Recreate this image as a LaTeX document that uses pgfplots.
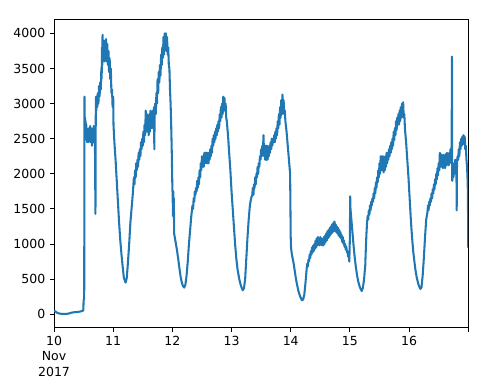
\documentclass[border=0pt]{standalone}
\usepackage{fontspec}
\setmainfont{DejaVu Sans}
\usepackage{pgfplots}
\pgfplotsset{compat=1.18}
\definecolor{mplblue}{RGB}{31,119,180}
\begin{document}
\begin{tikzpicture}
\begin{axis}[
  scale only axis,
  width=331.2pt, height=247pt,
  xmin=10, xmax=17.0, ymin=-195, ymax=4205,
  xtick={10,11,12,13,14,15,16,17},
  xticklabels={{10\\Nov\\2017},11,12,13,14,15,16,{}},
  xticklabel style={align=center, font=\fontsize{10}{12}\selectfont},
  ytick={0,500,1000,1500,2000,2500,3000,3500,4000},
  yticklabel style={font=\fontsize{10}{12}\selectfont},
  /pgf/number format/assume math mode=true,
  /pgf/number format/1000 sep={},
  xtick pos=bottom, ytick pos=left,
  tick align=outside,
  major tick length=3.5pt,
  every tick/.style={black, line width=0.8pt},
  axis line style={line width=0.8pt},
  tick label style={black},
]
\addplot[mplblue, line width=1.65pt, line join=round, mark=none] table {
x y
10.000 55
10.020 40
10.050 22
10.080 12
10.120 6
10.160 4
10.200 5
10.240 8
10.280 18
10.320 26
10.360 30
10.400 32
10.440 38
10.470 45
10.495 55
10.500 200
10.510 220
10.515 3100
10.520 2700
10.525 2800
10.530 2550
10.535 2750
10.540 2500
10.545 2700
10.550 2480
10.555 2650
10.560 2450
10.565 2620
10.570 2480
10.575 2600
10.580 2450
10.590 2650
10.600 2500
10.610 2680
10.620 2450
10.630 2650
10.640 2400
10.650 2600
10.660 2450
10.670 2680
10.680 2480
10.690 2650
10.700 1430
10.705 2800
10.710 3100
10.715 2900
10.720 3100
10.730 2950
10.740 3150
10.750 3000
10.760 3250
10.770 3100
10.780 3300
10.790 3200
10.800 3500
10.805 3350
10.810 3800
10.815 3550
10.820 3980
10.825 3600
10.830 3900
10.835 3650
10.840 3850
10.850 3600
10.860 3900
10.870 3650
10.880 3920
10.890 3600
10.900 3850
10.910 3550
10.920 3750
10.930 3450
10.940 3650
10.950 3350
10.960 3500
10.970 3150
10.980 3200
10.990 2950
11.000 3100
11.005 2700
11.020 2450
11.040 2200
11.060 1900
11.080 1600
11.100 1300
11.120 1050
11.140 850
11.160 680
11.180 520
11.210 450
11.230 520
11.250 750
11.270 1000
11.290 1300
11.310 1500
11.330 1700
11.350 1950
11.360 1850
11.370 2050
11.380 1950
11.390 2150
11.400 2050
11.410 2200
11.420 2100
11.430 2300
11.440 2200
11.450 2350
11.460 2250
11.470 2450
11.480 2350
11.490 2500
11.500 2400
11.510 2600
11.520 2450
11.530 2700
11.540 2550
11.550 2900
11.560 2600
11.570 2850
11.580 2600
11.590 2800
11.600 2550
11.610 2850
11.620 2600
11.630 2900
11.640 2650
11.650 2850
11.660 2650
11.670 2900
11.680 2700
11.690 2950
11.695 2350
11.700 2850
11.710 3000
11.720 2850
11.730 3150
11.740 3000
11.750 3350
11.760 3150
11.770 3450
11.780 3300
11.790 3550
11.800 3400
11.810 3700
11.820 3550
11.830 3800
11.840 3650
11.850 3950
11.860 3700
11.870 4000
11.880 3800
11.890 4000
11.900 3750
11.910 3950
11.920 3700
11.930 3800
11.940 3550
11.950 3500
11.960 3200
11.970 3000
11.980 2700
11.990 2300
12.000 1800
12.005 1700
12.010 1400
12.015 1750
12.020 1400
12.025 1650
12.030 1150
12.040 1100
12.060 1000
12.080 900
12.100 780
12.120 650
12.140 530
12.160 450
12.180 400
12.200 380
12.220 420
12.240 550
12.260 750
12.280 1000
12.300 1200
12.320 1400
12.340 1550
12.350 1500
12.360 1650
12.370 1600
12.380 1750
12.390 1700
12.400 1800
12.410 1750
12.420 1900
12.430 1800
12.440 1950
12.450 1850
12.460 2050
12.470 1950
12.480 2150
12.490 2050
12.500 2250
12.510 2100
12.520 2250
12.530 2100
12.540 2300
12.550 2150
12.560 2300
12.570 2150
12.580 2300
12.590 2150
12.600 2300
12.610 2150
12.620 2300
12.630 2200
12.640 2350
12.650 2250
12.660 2400
12.670 2300
12.680 2500
12.690 2400
12.700 2550
12.710 2450
12.720 2600
12.730 2500
12.740 2650
12.750 2550
12.760 2700
12.770 2600
12.780 2750
12.790 2650
12.800 2850
12.810 2750
12.820 2950
12.830 2800
12.840 3000
12.850 2850
12.860 3100
12.870 2900
12.880 3080
12.890 2900
12.900 3000
12.910 2800
12.920 2750
12.940 2550
12.960 2300
12.980 2050
13.000 1750
13.020 1500
13.040 1250
13.060 1000
13.080 800
13.100 650
13.130 500
13.160 400
13.190 340
13.210 370
13.230 500
13.250 800
13.270 1100
13.290 1350
13.310 1550
13.330 1650
13.350 1700
13.360 1800
13.370 1700
13.380 1850
13.390 1800
13.400 1950
13.410 1850
13.420 2000
13.430 1950
13.440 2100
13.450 2000
13.460 2150
13.470 2100
13.480 2250
13.490 2200
13.500 2350
13.510 2250
13.520 2400
13.530 2300
13.540 2550
13.550 2250
13.560 2400
13.570 2200
13.580 2400
13.590 2200
13.600 2400
13.610 2200
13.620 2350
13.630 2250
13.640 2400
13.650 2300
13.660 2450
13.670 2350
13.680 2500
13.690 2400
13.700 2500
13.710 2450
13.720 2550
13.730 2450
13.740 2600
13.750 2500
13.760 2650
13.770 2550
13.780 2750
13.790 2650
13.800 2850
13.810 2700
13.820 2950
13.830 2800
13.840 3050
13.850 2850
13.860 3130
13.870 2900
13.880 3050
13.890 2850
13.900 2900
13.910 2750
13.930 2600
13.950 2400
13.970 2200
13.990 2000
14.000 1100
14.005 950
14.020 850
14.050 720
14.080 550
14.100 450
14.130 330
14.160 250
14.190 200
14.210 210
14.230 280
14.250 450
14.270 650
14.280 720
14.290 680
14.300 780
14.310 750
14.320 850
14.330 800
14.340 900
14.350 850
14.360 950
14.370 880
14.380 980
14.390 900
14.400 1000
14.410 930
14.420 1050
14.430 950
14.440 1080
14.450 980
14.460 1100
14.470 1000
14.480 1080
14.490 980
14.500 1100
14.510 1000
14.520 1080
14.530 980
14.540 1060
14.550 980
14.560 1100
14.570 1000
14.580 1120
14.590 1030
14.600 1150
14.610 1050
14.620 1180
14.630 1080
14.640 1200
14.650 1100
14.660 1230
14.670 1130
14.680 1250
14.690 1150
14.700 1280
14.710 1170
14.720 1300
14.730 1200
14.740 1320
14.750 1180
14.760 1280
14.770 1170
14.780 1250
14.790 1150
14.800 1230
14.810 1120
14.820 1200
14.830 1100
14.840 1170
14.850 1080
14.860 1130
14.870 1030
14.880 1100
14.890 1000
14.900 1050
14.910 960
14.920 1000
14.930 920
14.940 960
14.950 880
14.960 900
14.970 820
14.980 850
14.990 750
15.000 1100
15.005 1680
15.010 1500
15.020 1400
15.040 1200
15.060 1000
15.080 820
15.100 680
15.120 560
15.140 470
15.170 380
15.200 330
15.220 380
15.240 500
15.260 700
15.270 950
15.280 1150
15.290 1300
15.300 1400
15.310 1350
15.320 1480
15.330 1420
15.340 1550
15.350 1480
15.360 1600
15.370 1550
15.380 1650
15.390 1600
15.400 1720
15.410 1650
15.420 1800
15.430 1720
15.440 1880
15.450 1800
15.460 1950
15.470 1880
15.480 2050
15.490 1950
15.500 2150
15.510 2000
15.520 2250
15.530 2050
15.540 2250
15.550 2050
15.560 2250
15.570 2020
15.580 2200
15.590 2050
15.600 2250
15.610 2100
15.620 2300
15.630 2150
15.640 2300
15.650 2200
15.660 2350
15.670 2250
15.680 2400
15.690 2300
15.700 2450
15.710 2350
15.720 2500
15.730 2400
15.740 2600
15.750 2480
15.760 2650
15.770 2550
15.780 2750
15.790 2620
15.800 2800
15.810 2700
15.820 2850
15.830 2700
15.840 2900
15.850 2750
15.860 2950
15.870 2800
15.880 3000
15.890 2850
15.900 3020
15.910 2800
15.920 2850
15.930 2650
15.950 2450
15.970 2200
15.990 1950
16.010 1650
16.030 1350
16.050 1100
16.070 900
16.090 750
16.110 620
16.130 520
16.160 420
16.190 360
16.210 380
16.230 550
16.250 800
16.270 1100
16.290 1350
16.310 1450
16.320 1550
16.330 1480
16.340 1600
16.350 1550
16.360 1650
16.370 1600
16.380 1720
16.390 1650
16.400 1780
16.410 1720
16.420 1850
16.430 1780
16.440 1920
16.450 1850
16.460 2000
16.470 1920
16.480 2080
16.490 1980
16.500 2150
16.510 2050
16.520 2300
16.530 2100
16.540 2280
16.550 2100
16.560 2250
16.570 2080
16.580 2270
16.590 2100
16.600 2250
16.610 2080
16.620 2280
16.630 2120
16.640 2300
16.650 2150
16.660 2280
16.670 2120
16.680 2300
16.690 2150
16.700 2350
16.710 2200
16.720 2430
16.725 3670
16.730 1900
16.740 2150
16.750 1950
16.760 2150
16.770 2000
16.780 2200
16.790 2050
16.800 2200
16.805 1480
16.810 2150
16.820 2250
16.830 2200
16.840 2350
16.850 2250
16.860 2450
16.870 2350
16.880 2500
16.890 2400
16.900 2530
16.910 2420
16.920 2550
16.930 2450
16.940 2530
16.950 2350
16.960 2400
16.970 2200
16.980 2100
16.990 1900
16.995 1700
17.000 950
};
\end{axis}
\path ([shift={(-43.2pt,-44.2pt)}]current axis.south west) rectangle ([shift={(25.4pt,15.2pt)}]current axis.north east);
\end{tikzpicture}
\end{document}
